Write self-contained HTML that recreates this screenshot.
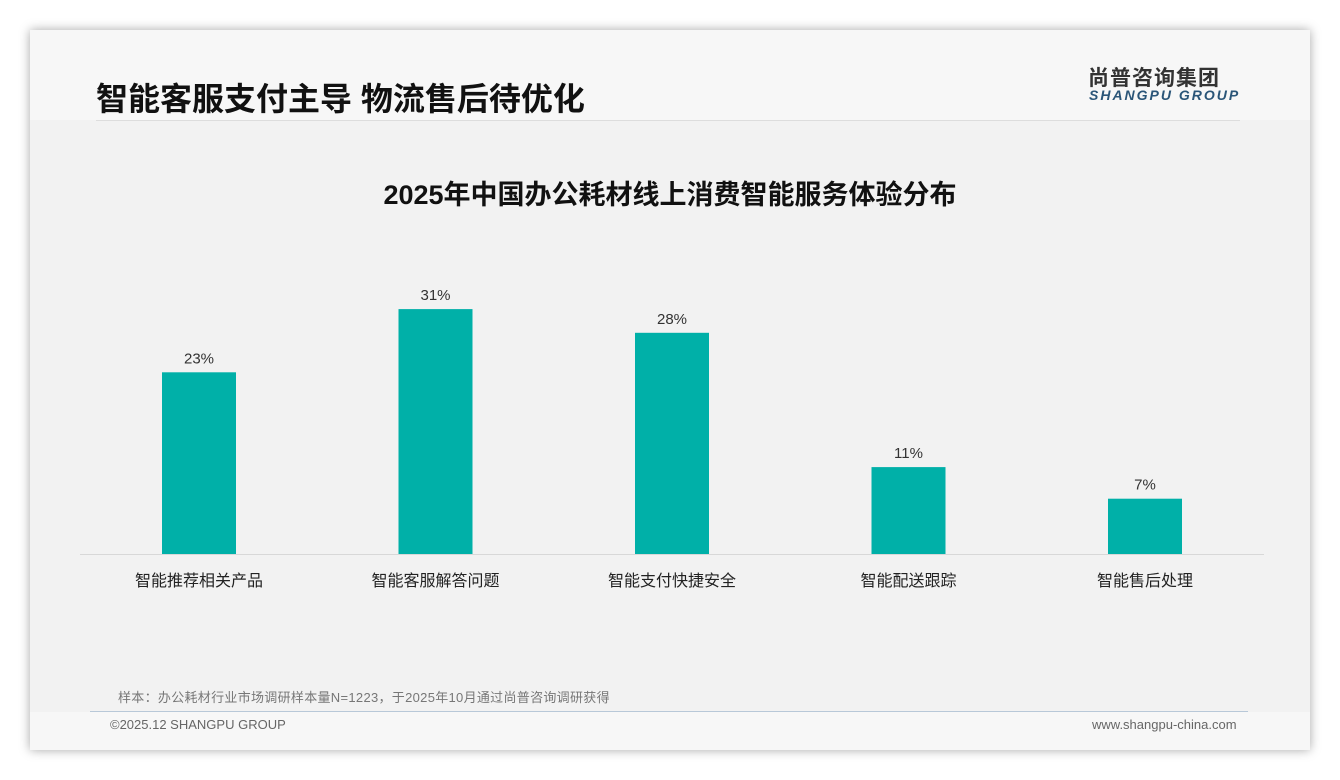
<!DOCTYPE html>
<html><head><meta charset="utf-8"><style>
body{margin:0;width:1340px;height:780px;background:#fff;position:relative;overflow:hidden;font-family:"Liberation Sans","Noto Sans CJK SC",sans-serif}
#card{position:absolute;left:30px;top:30px;width:1280px;height:720px;background:#f7f7f7;box-shadow:0 0 10px rgba(0,0,0,.35)}
#body{position:absolute;left:0;top:90px;width:1280px;height:592px;background:#f2f2f2}
.abs{position:absolute}
</style></head><body>
<div id="card">
<div id="body"></div>
<div class="abs" style="left:66px;top:44px;font-size:32px;font-weight:bold;color:#111">智能客服支付主导 物流售后待优化</div>
<div class="abs" style="left:66px;top:90px;width:1144px;height:1px;background:#ddd"></div>
<div class="abs" style="left:1058px;top:32px;font-size:21px;font-weight:bold;color:#333;letter-spacing:1px">尚普咨询集团</div>
<div class="abs" style="left:1059px;top:57px;font-size:14px;font-weight:bold;font-style:italic;color:#2a5578;letter-spacing:2px">SHANGPU GROUP</div>
<div class="abs" style="left:0;width:1340px;margin-left:-30px;text-align:center;top:143px;font-size:27px;font-weight:bold;color:#111">2025年中国办公耗材线上消费智能服务体验分布</div>
<div class="abs" style="left:88px;top:657px;font-size:13px;color:#777;letter-spacing:0.3px">样本：办公耗材行业市场调研样本量N=1223，于2025年10月通过尚普咨询调研获得</div>
<div class="abs" style="left:60px;top:681px;width:1158px;height:1px;background:#b8c8d8"></div>
<div class="abs" style="left:80px;top:687px;font-size:13px;color:#666">©2025.12 SHANGPU GROUP</div>
<div class="abs" style="left:1062px;top:687px;font-size:13px;color:#666">www.shangpu-china.com</div>
</div>
<svg id="chart" class="abs" style="left:0;top:0" width="1340" height="780"></svg>
<script>
const categories=["智能推荐相关产品","智能客服解答问题","智能支付快捷安全","智能配送跟踪","智能售后处理"];
const values=[23,31,28,11,7];
const valueLabels=["23%","31%","28%","11%","7%"];
const svg=document.getElementById('chart');const NS='http://www.w3.org/2000/svg';
const base=554,scale=7.9,x0=80,x1=1264;
const xc=i=>199+i*236.5;const y=v=>base-v*scale;
const ax=document.createElementNS(NS,'line');
ax.setAttribute('x1',x0);ax.setAttribute('x2',x1);ax.setAttribute('y1',base+0.5);ax.setAttribute('y2',base+0.5);ax.setAttribute('stroke','#d8d8d8');


svg.appendChild(ax);
values.forEach((v,i)=>{
 const r=document.createElementNS(NS,'rect');
 r.setAttribute('x',xc(i)-37);r.setAttribute('width',74);r.setAttribute('y',y(v));r.setAttribute('height',v*scale);r.setAttribute('fill','#00b0a8');
 
 
 svg.appendChild(r);
 const t=document.createElementNS(NS,'text');
 t.setAttribute('x',xc(i));t.setAttribute('y',y(v)-9);t.setAttribute('text-anchor','middle');t.setAttribute('font-size','15');t.setAttribute('fill','#333');t.textContent=valueLabels[i];
 
 
 svg.appendChild(t);
 const c=document.createElementNS(NS,'text');
 c.setAttribute('x',xc(i));c.setAttribute('y',586);c.setAttribute('text-anchor','middle');c.setAttribute('font-size','16');c.setAttribute('fill','#222');c.textContent=categories[i];
 
 
 svg.appendChild(c);
});
</script>
</body></html>
